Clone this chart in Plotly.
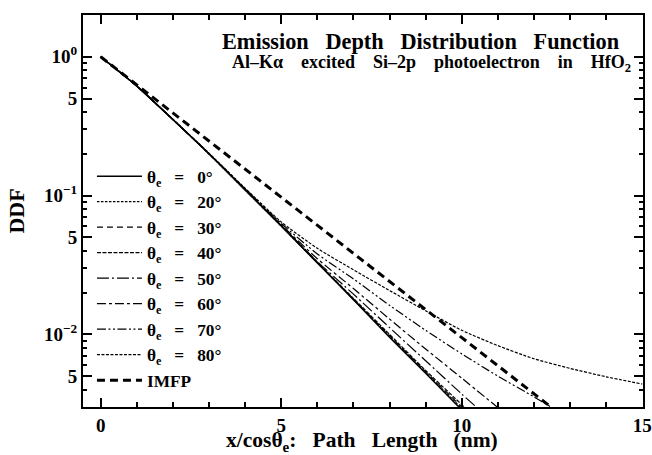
import plotly.graph_objects as go

# ---- data (x = path length in nm, y = DDF) ----
x_0 = [0, 1, 2, 3, 4, 5, 6, 7, 8, 9, 9.92]
y_0 = [1.0, 0.615, 0.353, 0.200, 0.110, 0.0603, 0.0327, 0.0178, 0.00955, 0.00525, 0.0030]
x_20 = [0, 1, 2, 3, 4, 5, 6, 7, 8, 9, 9.96]
y_20 = [1.0, 0.615, 0.353, 0.200, 0.110, 0.0603, 0.0329, 0.0179, 0.0097, 0.00535, 0.0030]
x_30 = [0, 1, 2, 3, 4, 5, 6, 7, 8, 9, 10.0]
y_30 = [1.0, 0.615, 0.353, 0.200, 0.110, 0.0605, 0.0329, 0.0180, 0.0098, 0.0054, 0.0030]
x_40 = [0, 1, 2, 3, 4, 5, 6, 7, 8, 9, 10.07]
y_40 = [1.0, 0.615, 0.353, 0.200, 0.110, 0.0607, 0.0331, 0.0182, 0.0100, 0.0055, 0.0030]
x_50 = [0, 1, 2, 3, 4, 5, 6, 7, 8, 9, 10, 10.4]
y_50 = [1.0, 0.615, 0.353, 0.200, 0.110, 0.0610, 0.0335, 0.0195, 0.0112, 0.00646, 0.00372, 0.0030]
x_60 = [0, 1, 2, 3, 4, 5, 6, 7, 8, 9, 10, 10.98]
y_60 = [1.0, 0.615, 0.353, 0.200, 0.111, 0.0617, 0.0351, 0.0214, 0.0129, 0.00785, 0.00484, 0.0030]
x_70 = [0, 1, 2, 3, 4, 5, 6, 7, 8, 9, 10, 11, 12, 12.47]
y_70 = [1.0, 0.615, 0.353, 0.200, 0.112, 0.0631, 0.0380, 0.0251, 0.0162, 0.0107, 0.00724, 0.00501, 0.00355, 0.0030]
x_80 = [0, 1, 2, 3, 4, 5, 6, 7, 8, 9, 10, 11, 12, 13, 14, 15]
y_80 = [1.0, 0.617, 0.355, 0.202, 0.113, 0.0646, 0.0417, 0.0292, 0.0207, 0.0148, 0.0107, 0.0083, 0.00668, 0.00569, 0.00495, 0.00439]
x_imfp = [0, 2, 4, 6, 8, 10, 12, 12.47]
y_imfp = [1.0, 0.394, 0.155, 0.0609, 0.024, 0.00945, 0.00372, 0.0030]

angles = ["0", "20", "30", "40", "50", "60", "70", "80"]
series_x = [x_0, x_20, x_30, x_40, x_50, x_60, x_70, x_80]
series_y = [y_0, y_20, y_30, y_40, y_50, y_60, y_70, y_80]

y_tickvals = [0.005, 0.01, 0.05, 0.1, 0.5, 1]
y_ticktext = ["5", "10<sup>\u22122</sup>", "5", "10<sup>\u22121</sup>", "5", "10<sup>0</sup>"]
y_minorvals = [0.003, 0.004, 0.006, 0.007, 0.008, 0.009,
               0.02, 0.03, 0.04, 0.06, 0.07, 0.08, 0.09,
               0.2, 0.3, 0.4, 0.6, 0.7, 0.8, 0.9, 2]
x_tickvals = [0, 5, 10, 15]
x_ticktext = ["0", "5", "10", "15"]

# ---- styles ----
styles = [
    dict(dash="solid", width=1.5),
    dict(dash="2.5px,1.5px", width=1.2),
    dict(dash="6px,4px", width=1.2),
    dict(dash="4px,1.5px", width=1.2),
    dict(dash="12px,3px,2px,3px", width=1.2),
    dict(dash="9px,3px,3px,3px", width=1.2),
    dict(dash="9px,2.5px,2px,2.5px,2px,2.5px", width=1.2),
    dict(dash="3px,1.5px", width=1.2),
]

FONT = "Liberation Serif, DejaVu Serif"
NB = "\u00a0"
SP3 = NB * 3

fig = go.Figure()
for a, xs, ys, st in zip(angles, series_x, series_y, styles):
    fig.add_trace(go.Scatter(
        x=xs, y=ys, mode="lines",
        name=f"\u03b8<sub>e</sub>{SP3}={SP3}{a}\u00b0",
        line=dict(color="black", width=st["width"], dash=st["dash"], shape="spline", smoothing=0.6),
    ))
fig.add_trace(go.Scatter(
    x=x_imfp, y=y_imfp, mode="lines", name="IMFP",
    line=dict(color="black", width=3, dash="8px,5px"),
))

fig.update_layout(
    width=652, height=455,
    margin=dict(l=83, r=9, t=15, b=48),
    paper_bgcolor="white", plot_bgcolor="white",
    font=dict(family=FONT, color="black", size=18, weight="bold"),
    showlegend=True,
    legend=dict(
        x=0.016, y=0.634, xanchor="left", yanchor="top",
        bgcolor="rgba(0,0,0,0)", borderwidth=0,
        font=dict(family=FONT, size=17.3, color="black", weight="bold"),
        tracegroupgap=0, itemwidth=45,
    ),
    xaxis=dict(
        range=[-0.49, 15.02], automargin=False,
        tickvals=x_tickvals, ticktext=x_ticktext,
        ticks="inside", ticklen=9, tickwidth=1.5, tickcolor="black",
        minor=dict(dtick=1, tick0=0, ticks="inside", ticklen=5, tickwidth=1.5, tickcolor="black"),
        showline=True, linewidth=2, linecolor="black", mirror="ticks",
        showgrid=False, zeroline=False, ticklabelstandoff=0, ticklabeloverflow="allow",
        tickfont=dict(family=FONT, size=19, weight="bold"),
    ),
    yaxis=dict(
        type="log", automargin=False,
        range=[-2.523, 0.301],
        tickvals=y_tickvals, ticktext=y_ticktext,
        ticks="inside", ticklen=9, tickwidth=1.5, tickcolor="black",
        minor=dict(tickvals=y_minorvals, ticks="inside", ticklen=4, tickwidth=1.5, tickcolor="black"),
        showline=True, linewidth=2, linecolor="black", mirror="ticks",
        showgrid=False, zeroline=False, ticklabelstandoff=0,
        tickfont=dict(family=FONT, size=19, weight="bold"),
        title=dict(text="DDF", font=dict(family=FONT, size=22, weight="bold"), standoff=13),
    ),
    annotations=[
        dict(text=f"Emission{SP3}Depth{SP3}Distribution{SP3}Function",
             xref="paper", yref="paper", x=0.962, y=0.933, xanchor="right", yanchor="middle",
             showarrow=False, font=dict(family=FONT, size=22.3, weight="bold", color="black")),
        dict(text=f"Al\u2013K\u03b1{NB*4}excited{NB*4}Si\u20132p{NB*4}photoelectron{NB*4}in{NB*4}HfO<sub>2</sub>",
             xref="paper", yref="paper", x=0.982, y=0.876, xanchor="right", yanchor="middle",
             showarrow=False, font=dict(family=FONT, size=18, weight="bold", color="black")),
        dict(text=f"x/cos\u03b8<sub>e</sub>:{SP3}Path{SP3}Length{SP3}(nm)",
             xref="paper", yref="paper", x=0.498, y=-0.089, xanchor="center", yanchor="middle",
             showarrow=False, font=dict(family=FONT, size=21.5, weight="bold", color="black")),
    ],
)

fig.write_html("out.html")
